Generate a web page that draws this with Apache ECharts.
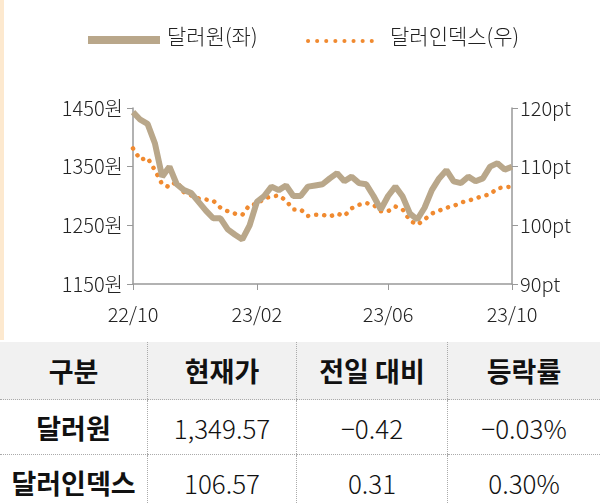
<!DOCTYPE html>
<html><head><meta charset="utf-8">
<script src="https://cdn.jsdelivr.net/npm/echarts@6/dist/echarts.min.js"></script>
<style>
body{margin:0;width:600px;height:504px;overflow:hidden;background:#fff;font-family:"Noto Sans CJK KR","Noto Sans",sans-serif;}
#c{width:600px;height:340px;position:absolute;left:0;top:0;}
#stripe{position:absolute;left:0;top:0;width:4px;height:340px;background:#fde9cf;}
table{position:absolute;left:0;top:342px;width:600px;border-collapse:collapse;color:#111;}
td{text-align:center;border-bottom:1px dotted #aaa;padding:0;}
td+td{border-left:1px dotted #aaa;}
tr.h td{background:#f1f1f1;font-weight:bold;font-size:27px;height:57px;}
tr.r td{font-size:26px;height:54px;font-weight:300;}
tr.r td:first-child{font-weight:bold;font-size:27px;}
</style></head><body>
<div id="c"></div><div id="stripe"></div>
<table>
<tr class="h"><td style="width:147px">구분</td><td style="width:148px">현재가</td><td style="width:150px">전일 대비</td><td>등락률</td></tr>
<tr class="r"><td>달러원</td><td>1,349.57</td><td>−0.42</td><td>−0.03%</td></tr>
<tr class="r"><td style="border-bottom:none">달러인덱스</td><td style="border-bottom:none">106.57</td><td style="border-bottom:none">0.31</td><td style="border-bottom:none">0.30%</td></tr>
</table>
<script>
const weeks = Array.from({length:53},(_,i)=>'w'+i);
const tickLabels = {0:'22/10',17:'23/02',35:'23/06',52:'23/10'};
const won = [1443,1430,1423,1390,1333,1350,1320,1310,1305,1290,1275,1262,1262,1243,1234,1226,1250,1290,1300,1316,1310,1318,1300,1300,1316,1318,1320,1330,1339,1325,1333,1322,1320,1300,1277,1300,1316,1299,1270,1260,1280,1310,1330,1344,1325,1322,1333,1325,1330,1350,1356,1345,1350];
const dxy = [113.1,111.2,111.5,109.4,107,106.5,107.5,105.6,105.1,104.6,104.4,104.2,103,102.4,102,101.8,103.5,103.6,104.6,104.9,105.1,104.2,102.7,102.7,101.6,101.8,101.8,101.5,102,101.6,102.9,103.5,103.8,103.5,102.4,102.4,103.2,102.7,100.8,100.1,101,102,102.5,103,103.3,103.9,104.2,104.6,105,105.3,106.3,106.5,106.6];
const chart = echarts.init(document.getElementById('c'));
const lab = {color:'#222',fontSize:20,fontWeight:300,fontFamily:'Noto Sans CJK KR'};
chart.setOption({
  animation:false,
  grid:{left:133,right:88,top:108,bottom:56},
  graphic:[
    {type:'line',shape:{x1:88,y1:40,x2:160,y2:40},style:{stroke:'#b9a78a',lineWidth:8}},
    {type:'text',left:167,top:26,style:{text:'달러원(좌)',fontSize:21,fill:'#222',fontWeight:300,fontFamily:'Noto Sans CJK KR'}},
    {type:'line',shape:{x1:308,y1:41,x2:380,y2:41},style:{stroke:'#f08a30',lineWidth:4,lineDash:[0.1,9],lineCap:'round'}},
    {type:'text',left:390,top:26,style:{text:'달러인덱스(우)',fontSize:21,fill:'#222',fontWeight:300,fontFamily:'Noto Sans CJK KR'}}
  ],
  xAxis:{type:'category',data:weeks,boundaryGap:false,
    axisLine:{lineStyle:{color:'#999',width:1.5}},
    axisTick:{interval:(i)=>i in tickLabels,length:6,lineStyle:{color:'#999'}},
    axisLabel:Object.assign({interval:(i)=>i in tickLabels,formatter:(v,i)=>tickLabels[i]||'',margin:20},lab)},
  yAxis:[
    {type:'value',min:1150,max:1450,interval:100,splitLine:{show:false},
     axisLine:{show:true,lineStyle:{color:'#999',width:1.5}},axisTick:{show:true,length:6,lineStyle:{color:'#999'}},
     axisLabel:Object.assign({formatter:(v)=>v+'원',margin:10},lab)},
    {type:'value',min:90,max:120,interval:10,splitLine:{show:false},
     axisLine:{show:true,lineStyle:{color:'#999',width:1.5}},axisTick:{show:true,length:6,lineStyle:{color:'#999'}},
     axisLabel:Object.assign({formatter:(v)=>v+'pt',margin:8},lab)}
  ],
  series:[
    {type:'line',data:dxy,yAxisIndex:1,showSymbol:false,lineStyle:{color:'#f08a30',width:4.5,type:[0.1,8],cap:'round'},z:2},
    {type:'line',data:won,yAxisIndex:0,showSymbol:false,lineStyle:{color:'#b9a78a',width:6},z:3}
  ]
});
</script></body></html>
